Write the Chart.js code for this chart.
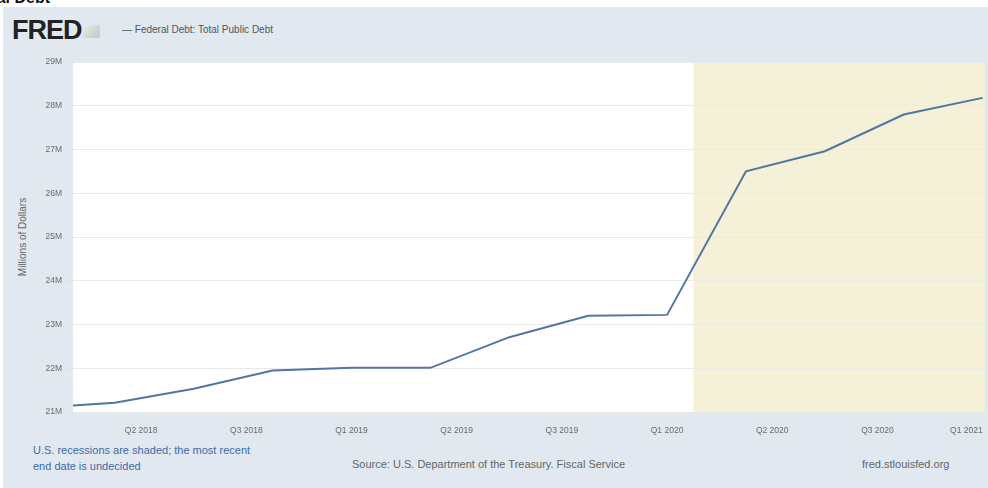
<!DOCTYPE html>
<html>
<head>
<meta charset="utf-8">
<script src="https://cdn.jsdelivr.net/npm/chart.js@4/dist/chart.umd.min.js"></script>
<style>
  body { margin: 0; width: 988px; height: 488px; background: #fff; position: relative; overflow: hidden; font-family: "Liberation Sans", Arial, sans-serif; }
  #panel { position: absolute; left: 3px; top: 7px; right: 0; bottom: 0; background: #e1e8f0; }
  #cut-title { position: absolute; right: 938px; top: -11px; font: bold 16px "Liberation Sans", Arial, sans-serif; color: #111; white-space: nowrap; }
  #logo { position: absolute; left: 12px; top: 15px; font: bold 27px "Liberation Sans", Arial, sans-serif; color: #222; letter-spacing: -1px; }
  #logo-icon { position: absolute; left: 83px; top: 25px; width: 17px; height: 13px; background: linear-gradient(135deg, #eef1ee 0%, #c9d2c8 60%, #b8c4b6 100%); opacity: 0.8; }
  #legend { position: absolute; left: 122px; top: 24px; font-size: 10px; color: #555; white-space: nowrap; }
  #ytitle { position: absolute; left: 22px; top: 237px; transform: translate(-50%, -50%) rotate(-90deg); font-size: 10px; color: #666; white-space: nowrap; }
  .note { position: absolute; font-size: 11px; white-space: nowrap; }
  #rec { left: 33px; top: 442px; color: #3d6aa6; line-height: 16px; }
  #src { left: 352px; top: 458px; color: #666; }
  #site { left: 862px; top: 458px; color: #666; }
  #wrap { position: absolute; left: 0; top: 0; width: 988px; height: 488px; }
</style>
</head>
<body>
<div id="panel"></div>
<div id="cut-title">Federal Debt</div>
<div id="logo">FRED</div>
<div id="logo-icon"></div>
<div id="legend">— Federal Debt: Total Public Debt</div>
<div id="ytitle">Millions of Dollars</div>
<div class="note" id="rec">U.S. recessions are shaded; the most recent<br>end date is undecided</div>
<div class="note" id="src">Source: U.S. Department of the Treasury. Fiscal Service</div>
<div class="note" id="site">fred.stlouisfed.org</div>
<div id="wrap"><canvas id="chart" width="988" height="488"></canvas></div>

<script>
// quarter index: 0 = Q1 2018 ... 12 = Q1 2021
const quarters = [0, 1, 2, 3, 4, 5, 6, 7, 8, 9, 10, 11, 12];
// millions of dollars
const debt = [21090000, 21210000, 21530000, 21950000, 22010000, 22010000, 22710000,
              23200000, 23220000, 26500000, 26960000, 27800000, 28180000];

const xTickPos = [1.333, 2.667, 4, 5.333, 6.667, 8, 9.333, 10.667, 12];
const xTickLabels = ["Q2 2018", "Q3 2018", "Q1 2019", "Q2 2019", "Q3 2019",
                     "Q1 2020", "Q2 2020", "Q3 2020", "Q1 2021"];
const yTickLabels = ["21M", "22M", "23M", "24M", "25M", "26M", "27M", "28M", "29M"];

const recessionStart = 8.333; // Feb 2020
const xMin = 0.47;
const xMax = 12.03;

// white plot background and recession shading
const plotBg = {
  id: "plotBg",
  beforeDraw(chart) {
    const { ctx, chartArea: a, scales: { x } } = chart;
    ctx.save();
    ctx.fillStyle = "#ffffff";
    ctx.fillRect(a.left, a.top, a.right - a.left, a.bottom - a.top);
    const rx = x.getPixelForValue(recessionStart);
    ctx.fillStyle = "#f4f1d8";
    ctx.fillRect(rx, a.top, a.right - rx, a.bottom - a.top);
    ctx.restore();
  }
};

new Chart(document.getElementById("chart"), {
  type: "line",
  data: {
    datasets: [{
      label: "Federal Debt: Total Public Debt",
      data: quarters.map((q, i) => ({ x: q, y: debt[i] })),
      borderColor: "#5275a2",
      borderWidth: 2,
      pointRadius: 0,
      tension: 0,
      clip: 0
    }]
  },
  options: {
    responsive: false,
    animation: false,
    layout: { padding: { top: 62, left: 0, right: 3, bottom: 0 } },
    plugins: { legend: { display: false }, tooltip: { enabled: false } },
    scales: {
      x: {
        type: "linear",
        min: xMin,
        max: xMax,
        grid: { display: false, drawTicks: false },
        border: { display: false },
        afterBuildTicks(scale) {
          scale.ticks = [{ value: xMin }].concat(xTickPos.map(v => ({ value: v })));
        },
        afterFit(scale) {
          scale.height = 76;
          scale.paddingLeft = 0;
          scale.paddingRight = 0;
        },
        ticks: {
          autoSkip: false,
          maxRotation: 0,
          align: "inner",
          padding: 14,
          color: "#6a6a6a",
          font: { size: 8.5, family: "Liberation Sans" },
          callback: (v, i) => i === 0 ? "" : xTickLabels[i - 1]
        }
      },
      y: {
        min: 21000000,
        max: 29000000,
        grid: { color: "#eaeaea", tickColor: "#e2e2e2", tickLength: 8 },
        border: { display: false },
        afterFit(scale) { scale.width = 73; },
        ticks: {
          stepSize: 1000000,
          padding: 3,
          color: "#6a6a6a",
          font: { size: 8.5, family: "Liberation Sans" },
          callback: (v, i) => yTickLabels[i]
        }
      }
    }
  },
  plugins: [plotBg]
});
</script>
</body>
</html>
